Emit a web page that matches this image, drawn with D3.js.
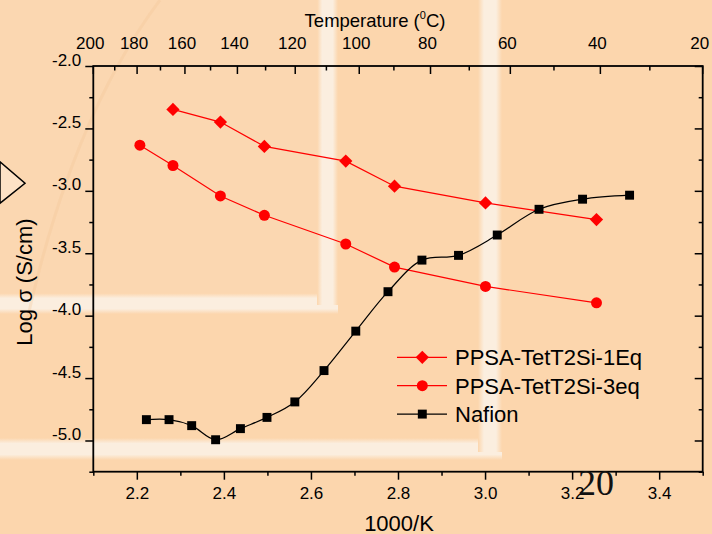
<!DOCTYPE html>
<html>
<head>
<meta charset="utf-8">
<script src="https://cdn.jsdelivr.net/npm/d3@7"></script>
<style>
  html, body { margin: 0; padding: 0; background: #fcd6ad; }
  svg { display: block; font-family: Arial, "Liberation Sans", sans-serif; }
</style>
</head>
<body>
<svg id="chart" width="712" height="534"></svg>
<script>
// values (x = 1000/K, y = log sigma)
const eq1X = [2.283, 2.392, 2.493, 2.680, 2.792, 3.001, 3.256];
const eq1Y = [-2.348, -2.449, -2.644, -2.762, -2.963, -3.097, -3.230];

const eq3X = [2.207, 2.283, 2.392, 2.493, 2.680, 2.792, 3.001, 3.256];
const eq3Y = [-2.634, -2.797, -3.041, -3.196, -3.426, -3.611, -3.766, -3.897];

const nafionX = [2.222, 2.274, 2.326, 2.381, 2.438, 2.499, 2.563, 2.630, 2.703, 2.777, 2.855, 2.939, 3.028, 3.124, 3.224, 3.332];
const nafionY = [-4.833, -4.833, -4.881, -4.994, -4.905, -4.815, -4.691, -4.440, -4.124, -3.808, -3.555, -3.517, -3.354, -3.148, -3.067, -3.035];

const legendNames = ["PPSA-TetT2Si-1Eq", "PPSA-TetT2Si-3eq", "Nafion"];

const xTicks = [2.2, 2.4, 2.6, 2.8, 3.0, 3.2, 3.4];
const xMinor = [2.1, 2.3, 2.5, 2.7, 2.9, 3.1, 3.3, 3.5];
const yTicks = [-2.0, -2.5, -3.0, -3.5, -4.0, -4.5, -5.0];
const yMinor = [-2.25, -2.75, -3.25, -3.75, -4.25, -4.75, -5.25];
const tempTicks = [200, 180, 160, 140, 120, 100, 80, 60, 40, 20];
const tempMinor = [190, 170, 150, 130, 110, 90, 70, 50, 30];

function init() {
    const svg = d3.select("#chart");
    const left = 93.3, top = 66, width = 609.4, height = 405.7;

    // slide background decorations
    const bg = svg.append("g");
    const defs = svg.append("defs");
    const band = (id, vertical) => {
        const g = defs.append("linearGradient").attr("id", id);
        if (vertical) g.attr("x1", 0).attr("y1", 0).attr("x2", 0).attr("y2", 1);
        g.append("stop").attr("offset", "0").attr("stop-color", "#fcd6ad");
        g.append("stop").attr("offset", "0.25").attr("stop-color", "#fbeedf");
        g.append("stop").attr("offset", "0.75").attr("stop-color", "#fbeedf");
        g.append("stop").attr("offset", "1").attr("stop-color", "#fcd6ad");
    };
    band("bandV", false);
    band("bandH", true);

    bg.append("rect").attr("x", 0).attr("y", 0).attr("width", 712).attr("height", 534).attr("fill", "#fcd6ad");
    bg.append("rect").attr("x", 0).attr("y", 0).attr("width", 317).attr("height", 293).attr("fill", "#fbd7b1");
    bg.append("rect").attr("x", 0).attr("y", 293).attr("width", 338).attr("height", 21).attr("fill", "url(#bandH)");
    bg.append("rect").attr("x", 317).attr("y", 0).attr("width", 21).attr("height", 305).attr("fill", "url(#bandV)");
    bg.append("rect").attr("x", 0).attr("y", 438).attr("width", 502).attr("height", 22).attr("fill", "url(#bandH)");
    bg.append("rect").attr("x", 478).attr("y", 0).attr("width", 24).attr("height", 452).attr("fill", "url(#bandV)");
    bg.append("path")
        .attr("d", "M160,0 Q70,120 25,330")
        .attr("fill", "none").attr("stroke", "#f3c596").attr("stroke-width", 3).attr("opacity", 0.3);
    bg.append("path")
        .attr("d", "M0,161.7 L25,183.3 L0,203.3 Z")
        .attr("fill", "#fde2c6").attr("stroke", "#000").attr("stroke-width", 1.5);

    const x = d3.scaleLinear().domain([2.1, 3.5]).range([left, left + width]);
    const y = d3.scaleLinear().domain([-5.25, -2.0]).range([top + height, top]);
    // top temperature axis as drawn in the source (200 C at left edge, 20 C at right edge)
    const tScale = d3.scaleLinear().domain([1000 / 473, 1000 / 293]).range([left, left + width]);
    const tx = t => tScale(1000 / (t + 273));

    const axisStyle = g => {
        g.select(".domain").remove();
        g.selectAll("line").attr("stroke", "#000").attr("stroke-width", 1.5);
        g.selectAll("text").attr("fill", "#000").attr("font-size", "17px");
    };

    // bottom
    svg.append("g").attr("transform", `translate(0,${top + height})`)
        .call(d3.axisBottom(x).tickValues(xTicks).tickFormat(d3.format(".1f")).tickSize(8).tickPadding(7))
        .call(axisStyle);
    svg.append("g").attr("transform", `translate(0,${top + height})`)
        .call(d3.axisBottom(x).tickValues(xMinor).tickFormat("").tickSize(4))
        .call(axisStyle);
    // left
    svg.append("g").attr("transform", `translate(${left},0)`)
        .call(d3.axisLeft(y).tickValues(yTicks).tickFormat(d3.format(".1f")).tickSize(8).tickPadding(4))
        .call(axisStyle)
        .call(g => g.selectAll("text").attr("dy", "-0.05em").text(d => d3.format(".1f")(d).replace("−", "-")));
    svg.append("g").attr("transform", `translate(${left},0)`)
        .call(d3.axisLeft(y).tickValues(yMinor).tickFormat("").tickSize(4))
        .call(axisStyle);
    // right (inward)
    svg.append("g").attr("transform", `translate(${left + width},0)`)
        .call(d3.axisLeft(y).tickValues(yTicks).tickFormat("").tickSize(8))
        .call(axisStyle);
    svg.append("g").attr("transform", `translate(${left + width},0)`)
        .call(d3.axisLeft(y).tickValues(yMinor).tickFormat("").tickSize(4))
        .call(axisStyle);
    // top temperature axis, ticks inward
    const topG = svg.append("g").attr("transform", `translate(0,${top})`);
    topG.selectAll("line.maj").data(tempTicks).join("line")
        .attr("x1", d => tx(d)).attr("x2", d => tx(d)).attr("y1", 0).attr("y2", 8)
        .attr("stroke", "#000").attr("stroke-width", 1.5);
    topG.selectAll("line.min").data(tempMinor).join("line")
        .attr("x1", d => tx(d)).attr("x2", d => tx(d)).attr("y1", 0).attr("y2", 4.5)
        .attr("stroke", "#000").attr("stroke-width", 1.5);
    topG.selectAll("text").data(tempTicks).join("text")
        .attr("x", d => tx(d) - 3).attr("y", -17)
        .attr("text-anchor", "middle").attr("font-size", "17px")
        .text(d => d);

    // frame
    svg.append("rect").attr("x", left).attr("y", top).attr("width", width).attr("height", height)
        .attr("fill", "none").attr("stroke", "#000").attr("stroke-width", 1.8);

    // axis titles
    const tt = svg.append("text").attr("x", 375).attr("y", 27).attr("text-anchor", "middle")
        .attr("font-size", "18.5px");
    tt.append("tspan").text("Temperature (");
    tt.append("tspan").attr("font-size", "11px").attr("dy", -8).text("0");
    tt.append("tspan").attr("dy", 8).text("C)");

    svg.append("text").attr("x", 399).attr("y", 531).attr("text-anchor", "middle")
        .attr("font-size", "22px").text("1000/K");

    svg.append("text").attr("transform", "translate(32,282) rotate(-90)")
        .attr("text-anchor", "middle").attr("font-size", "22px")
        .text("Log \u03c3  (S/cm)");

    const plot = svg.append("g");
    const line = d3.line().x(d => x(d[0])).y(d => y(d[1]));

    const d1 = eq1X.map((v, i) => [v, eq1Y[i]]);
    const d3s = eq3X.map((v, i) => [v, eq3Y[i]]);
    const dn = nafionX.map((v, i) => [v, nafionY[i]]);

    plot.append("path").attr("d", line(d1)).attr("fill", "none").attr("stroke", "#ff0000").attr("stroke-width", 1.2);
    plot.append("path").attr("d", line(d3s)).attr("fill", "none").attr("stroke", "#ff0000").attr("stroke-width", 1.2);
    plot.append("path").attr("d", line.curve(d3.curveCatmullRom.alpha(0.5))(dn))
        .attr("fill", "none").attr("stroke", "#000").attr("stroke-width", 1.2);

    // diamond = square turned 45 degrees (equal width and height like the source)
    const diamond = d3.symbol().type(d3.symbolSquare).size(88);
    const circle = d3.symbol().type(d3.symbolCircle).size(95);
    const square = d3.symbol().type(d3.symbolSquare).size(80);

    plot.selectAll("path.dia").data(d1).join("path")
        .attr("transform", d => `translate(${x(d[0])},${y(d[1])}) rotate(45)`)
        .attr("d", diamond).attr("fill", "#ff0000");
    plot.selectAll("path.cir").data(d3s).join("path")
        .attr("transform", d => `translate(${x(d[0])},${y(d[1])})`)
        .attr("d", circle).attr("fill", "#ff0000");
    plot.selectAll("path.sq").data(dn).join("path")
        .attr("transform", d => `translate(${x(d[0])},${y(d[1])})`)
        .attr("d", square).attr("fill", "#000");

    // legend
    const legColors = ["#ff0000", "#ff0000", "#000"];
    const legSymbols = [diamond, circle, square];
    const legRot = [45, 0, 0];
    const leg = svg.append("g");
    legendNames.forEach((name, i) => {
        const ly = 357.3 + i * 28.4;
        leg.append("line").attr("x1", 397).attr("x2", 447).attr("y1", ly).attr("y2", ly)
            .attr("stroke", legColors[i]).attr("stroke-width", 1.2);
        leg.append("path").attr("transform", `translate(422.3,${ly}) rotate(${legRot[i]})`).attr("d", legSymbols[i])
            .attr("fill", legColors[i]);
        leg.append("text").attr("x", 455).attr("y", ly + 8).attr("font-size", "22px").text(name);
    });

    // slide number
    svg.append("text").attr("x", 578).attr("y", 495)
        .attr("font-family", "'Liberation Serif', 'Times New Roman', serif")
        .attr("font-size", "36px").attr("fill", "#111").text("20");
}

window.onload = init;
</script>
</body>
</html>
